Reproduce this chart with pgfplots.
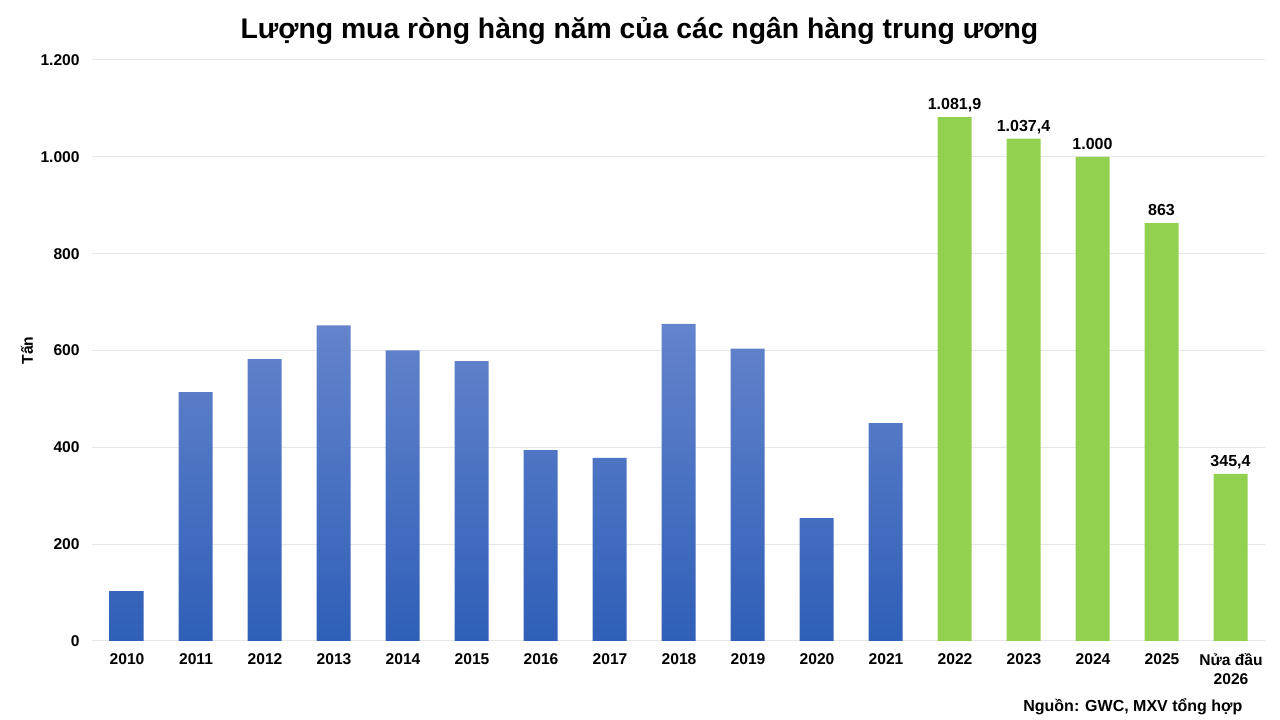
\documentclass[border=0pt]{standalone}
\usepackage{pgfplots}
\pgfplotsset{compat=1.18}
\usepackage{fontspec}
\setmainfont{Liberation Sans}
\definecolor{gridc}{HTML}{E6E6E6}
\definecolor{blueT}{HTML}{6484CC}
\definecolor{blueM}{HTML}{3F6EC6}
\definecolor{blueB}{HTML}{2F5FB8}
\definecolor{greenB}{HTML}{92D050}
\begin{document}
\begin{tikzpicture}
\path[use as bounding box] (0,0) rectangle (960pt,540pt);
\begin{axis}[
  at={(69pt,59.25pt)}, anchor=south west,
  width=879.75pt, height=435.75pt, scale only axis,
  xmin=-0.5, xmax=16.5, ymin=0, ymax=1200,
  ytick={0,200,...,1200},
  yticklabels={0,200,400,600,800,{1.000},{1.200}},
  xtick={0,...,16},
  xticklabels={2010,2011,2012,2013,2014,2015,2016,2017,2018,2019,2020,2021,2022,2023,2024,2025,{Nửa đầu\\2026}},
  xticklabel style={font=\bfseries\fontsize{11.7}{14}\selectfont, align=center, yshift=-1.6pt, xshift=0.4pt},
  yticklabel style={font=\bfseries\fontsize{11.7}{14}\selectfont, xshift=-5.8pt},
  /pgf/number format/assume math mode=true,
  tick style={draw=none},
  axis line style={draw=none},
  axis x line*=bottom,
  ymajorgrids, grid style={gridc, line width=0.75pt},
  ylabel={Tấn}, ylabel style={font=\bfseries\fontsize{11.7}{14}\selectfont, at={(axis description cs:0,0.5)}, anchor=center, yshift=48.75pt},
  ybar=0pt, bar width=25.5pt,
  clip=false,
]
\addplot[bar shift=0pt, draw=none, top color=blueT, middle color=blueM, bottom color=blueB] coordinates {
 (0,103)(1,514)(2,582)(3,652)(4,600)(5,578)(6,394)(7,378)(8,655)(9,604)(10,254)(11,450)};
\addplot[bar shift=0pt, draw=none, fill=greenB,
  nodes near coords={\pgfmathprintnumber[use comma,1000 sep={.},fixed,precision=1]{\pgfplotspointmeta}},
  every node near coord/.style={font=\bfseries\fontsize{12}{14}\selectfont, text=black, anchor=south, text height=8.6pt, text depth=2pt, yshift=0.2pt},
  ] coordinates {
 (12,1081.9)(13,1037.4)(14,1000)(15,863)(16,345.4)};
\end{axis}
\node[font=\bfseries\fontsize{21.25}{25}\selectfont, anchor=center] at (479.5pt,517pt) {Lượng mua ròng hàng năm của các ngân hàng trung ương};
\node[font=\bfseries\fontsize{12}{14}\selectfont, anchor=east] at (935.3pt,10pt) {Nguồn: GWC, MXV tổng hợp};
\end{tikzpicture}
\end{document}
